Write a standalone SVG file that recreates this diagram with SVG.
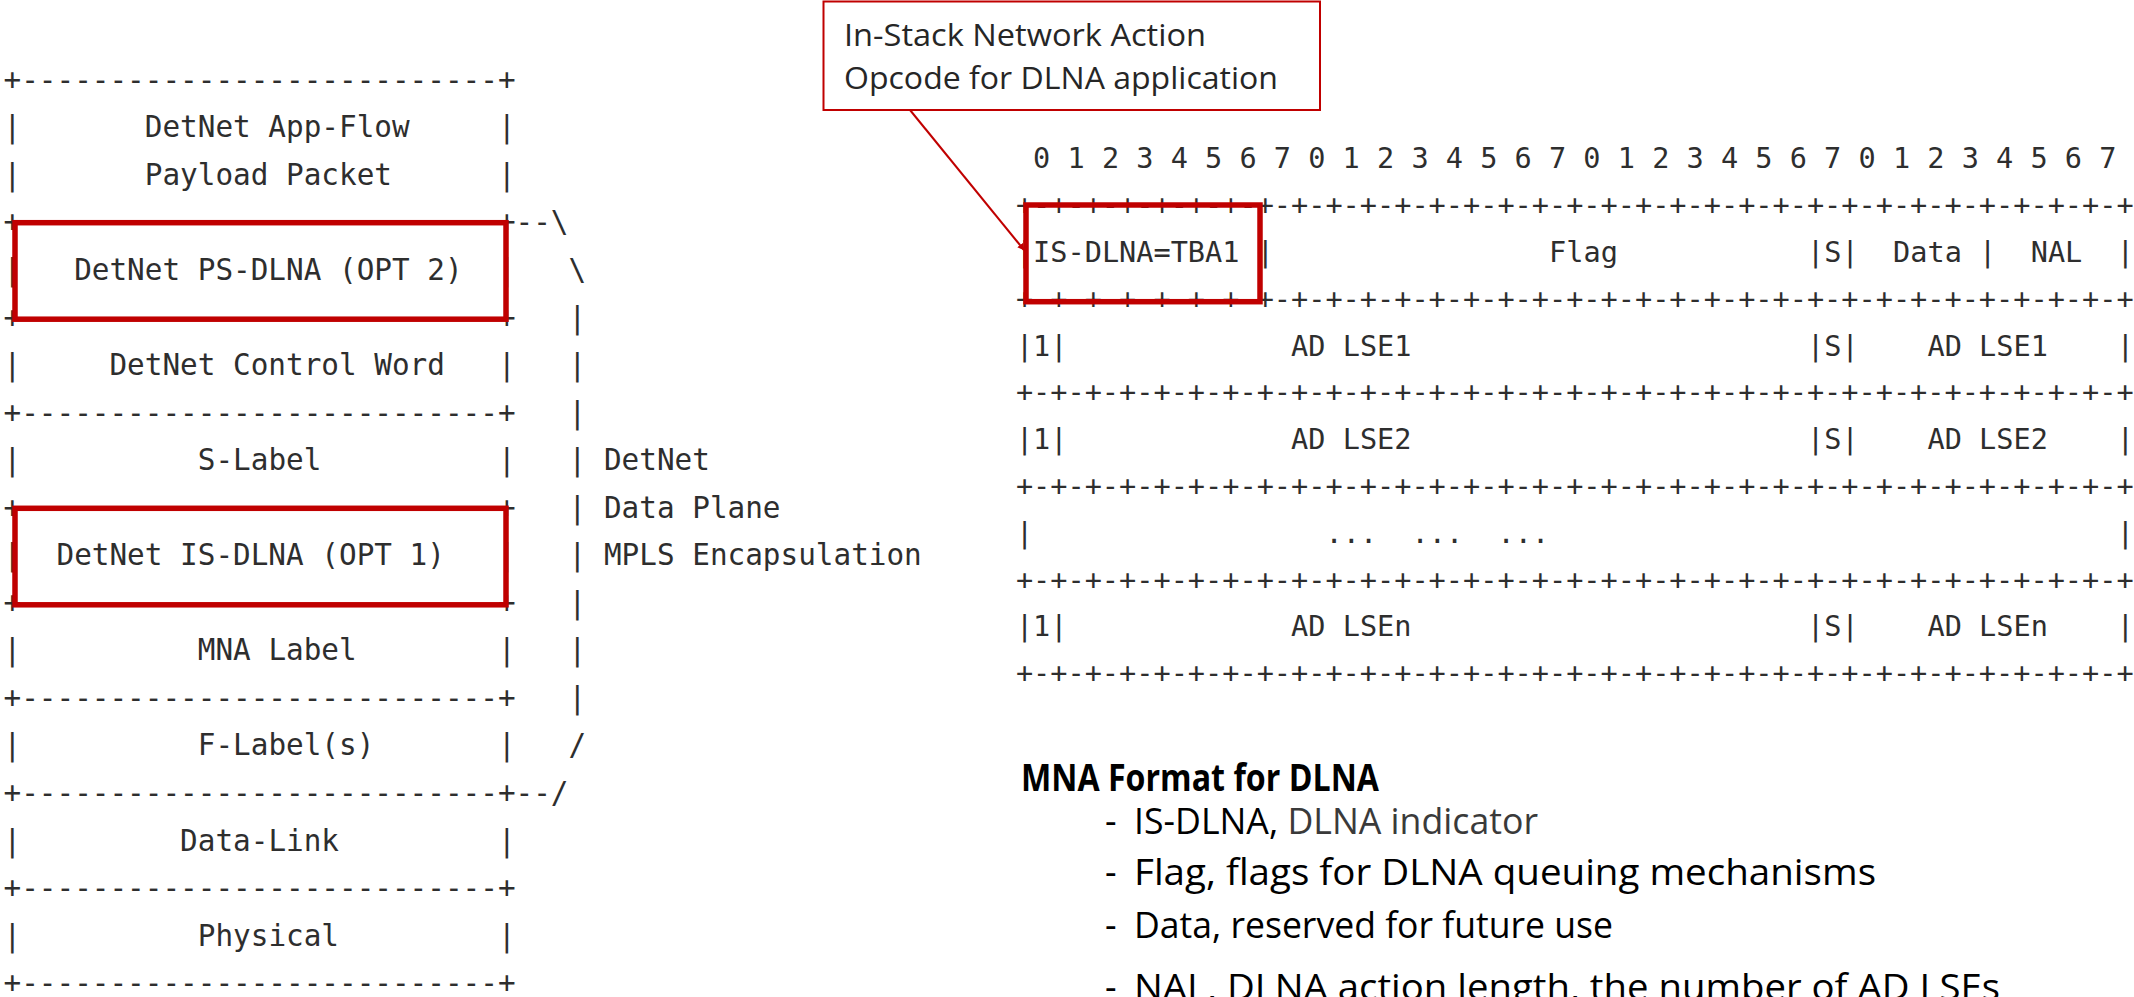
<svg xmlns="http://www.w3.org/2000/svg" width="2134" height="997" viewBox="0 0 2134 997">
  <style>
    .mono { font-family: "DejaVu Sans Mono", "Liberation Mono", monospace; fill: #2e2e2e; }
    .stack { font-size: 29.33px; }
    .fmt { font-size: 28.57px; }
    .hl { fill: none; stroke: #C00000; stroke-width: 5.5; }
    .note { font-family: "Open Sans", "Liberation Sans", sans-serif; fill: #262626; font-size: 31px; }
    .body { font-family: "Open Sans", "Liberation Sans", sans-serif; fill: #000; font-size: 36px; }
  </style>
  <defs>
    <marker id="arrow" viewBox="0 0 10 10" refX="9" refY="5" markerWidth="7" markerHeight="7" orient="auto" markerUnits="userSpaceOnUse">
      <path d="M0,0 L10,5 L0,10 z" fill="#C00000"/>
    </marker>
  </defs>
  <rect width="2134" height="997" fill="#fff"/>

  <!-- DetNet MPLS data plane stack: column grid x = 3.5 + 17.66 * col -->
  <g id="protocol-stack" class="mono stack">
    <text x="3.5" y="89.75">+---------------------------+</text>
    <text y="137.3"><tspan x="3.5">|</tspan><tspan x="144.78">DetNet App-Flow</tspan><tspan x="497.98">|</tspan></text>
    <text y="184.85"><tspan x="3.5">|</tspan><tspan x="144.78">Payload Packet</tspan><tspan x="497.98">|</tspan></text>
    <text x="3.5" y="232.4">+---------------------------+--\</text>
    <text y="279.95"><tspan x="3.5">|</tspan><tspan x="74.14">DetNet PS-DLNA (OPT 2)</tspan><tspan x="497.98">|</tspan><tspan x="568.62">\</tspan></text>
    <text y="327.5"><tspan x="3.5">+---------------------------+</tspan><tspan x="568.62">|</tspan></text>
    <text y="375.05"><tspan x="3.5">|</tspan><tspan x="109.46">DetNet Control Word</tspan><tspan x="497.98">|</tspan><tspan x="568.62">|</tspan></text>
    <text y="422.6"><tspan x="3.5">+---------------------------+</tspan><tspan x="568.62">|</tspan></text>
    <text y="470.15"><tspan x="3.5">|</tspan><tspan x="197.76">S-Label</tspan><tspan x="497.98">|</tspan><tspan x="568.62">|</tspan><tspan x="603.94">DetNet</tspan></text>
    <text y="517.7"><tspan x="3.5">+---------------------------+</tspan><tspan x="568.62">|</tspan><tspan x="603.94">Data Plane</tspan></text>
    <text y="565.25"><tspan x="3.5">|</tspan><tspan x="56.48">DetNet IS-DLNA (OPT 1)</tspan><tspan x="497.98">|</tspan><tspan x="568.62">|</tspan><tspan x="603.94">MPLS Encapsulation</tspan></text>
    <text y="612.8"><tspan x="3.5">+---------------------------+</tspan><tspan x="568.62">|</tspan></text>
    <text y="660.35"><tspan x="3.5">|</tspan><tspan x="197.76">MNA Label</tspan><tspan x="497.98">|</tspan><tspan x="568.62">|</tspan></text>
    <text y="707.9"><tspan x="3.5">+---------------------------+</tspan><tspan x="568.62">|</tspan></text>
    <text y="755.45"><tspan x="3.5">|</tspan><tspan x="197.76">F-Label(s)</tspan><tspan x="497.98">|</tspan><tspan x="568.62">/</tspan></text>
    <text x="3.5" y="803">+---------------------------+--/</text>
    <text y="850.55"><tspan x="3.5">|</tspan><tspan x="180.1">Data-Link</tspan><tspan x="497.98">|</tspan></text>
    <text x="3.5" y="898.1">+---------------------------+</text>
    <text y="945.65"><tspan x="3.5">|</tspan><tspan x="197.76">Physical</tspan><tspan x="497.98">|</tspan></text>
    <text x="3.5" y="993.2">+---------------------------+</text>
  </g>

  <!-- DLNA options in the stack -->
  <g id="stack-highlights">
    <rect id="opt2" class="hl" x="15" y="222.7" width="491" height="96.5"/>
    <rect id="opt1" class="hl" x="15" y="508.3" width="491" height="96.5"/>
  </g>

  <!-- MNA format for DLNA: column grid x = 1015.9 + 17.2 * col -->
  <g id="mna-format" class="mono fmt">
    <text x="1033.1" y="168.3">0 1 2 3 4 5 6 7 0 1 2 3 4 5 6 7 0 1 2 3 4 5 6 7 0 1 2 3 4 5 6 7</text>
    <text x="1015.9" y="215.1">+-+-+-+-+-+-+-+-+-+-+-+-+-+-+-+-+-+-+-+-+-+-+-+-+-+-+-+-+-+-+-+-+</text>
    <text y="261.9"><tspan x="1015.9">|</tspan><tspan x="1033.1">IS-DLNA=TBA1</tspan><tspan x="1256.7">|</tspan><tspan x="1549.1">Flag</tspan><tspan x="1807.1">|S|</tspan><tspan x="1893.1">Data</tspan><tspan x="1979.1">|</tspan><tspan x="2030.7">NAL</tspan><tspan x="2116.7">|</tspan></text>
    <text x="1015.9" y="308.7">+-+-+-+-+-+-+-+-+-+-+-+-+-+-+-+-+-+-+-+-+-+-+-+-+-+-+-+-+-+-+-+-+</text>
    <text y="355.5"><tspan x="1015.9">|1|</tspan><tspan x="1291.1">AD LSE1</tspan><tspan x="1807.1">|S|</tspan><tspan x="1927.5">AD LSE1</tspan><tspan x="2116.7">|</tspan></text>
    <text x="1015.9" y="402.3">+-+-+-+-+-+-+-+-+-+-+-+-+-+-+-+-+-+-+-+-+-+-+-+-+-+-+-+-+-+-+-+-+</text>
    <text y="449.1"><tspan x="1015.9">|1|</tspan><tspan x="1291.1">AD LSE2</tspan><tspan x="1807.1">|S|</tspan><tspan x="1927.5">AD LSE2</tspan><tspan x="2116.7">|</tspan></text>
    <text x="1015.9" y="495.9">+-+-+-+-+-+-+-+-+-+-+-+-+-+-+-+-+-+-+-+-+-+-+-+-+-+-+-+-+-+-+-+-+</text>
    <text y="542.7"><tspan x="1015.9">|</tspan><tspan x="1325.5">...</tspan><tspan x="1411.5">...</tspan><tspan x="1497.5">...</tspan><tspan x="2116.7">|</tspan></text>
    <text x="1015.9" y="589.5">+-+-+-+-+-+-+-+-+-+-+-+-+-+-+-+-+-+-+-+-+-+-+-+-+-+-+-+-+-+-+-+-+</text>
    <text y="636.3"><tspan x="1015.9">|1|</tspan><tspan x="1291.1">AD LSEn</tspan><tspan x="1807.1">|S|</tspan><tspan x="1927.5">AD LSEn</tspan><tspan x="2116.7">|</tspan></text>
    <text x="1015.9" y="683.1">+-+-+-+-+-+-+-+-+-+-+-+-+-+-+-+-+-+-+-+-+-+-+-+-+-+-+-+-+-+-+-+-+</text>
  </g>
  <rect id="is-dlna-field" class="hl" x="1026" y="205" width="234" height="96.7"/>

  <!-- callout for the opcode -->
  <g id="callout">
    <rect x="823.5" y="1.5" width="496.5" height="108.5" fill="#fff" stroke="#C00000" stroke-width="2"/>
    <text class="note" x="844" y="45.7" textLength="362" lengthAdjust="spacingAndGlyphs">In-Stack Network Action</text>
    <text class="note" x="844" y="89.3" textLength="434" lengthAdjust="spacingAndGlyphs">Opcode for DLNA application</text>
  </g>

  <g id="connectors">
    <line x1="910" y1="110" x2="1024" y2="250" stroke="#C00000" stroke-width="2" marker-end="url(#arrow)"/>
  </g>

  <!-- field descriptions -->
  <g id="legend" class="body">
    <text x="1021" y="791" font-weight="bold" font-size="38" textLength="358" lengthAdjust="spacingAndGlyphs">MNA Format for DLNA</text>
    <text x="1105" y="834">-</text>
    <text x="1134" y="834" textLength="404" lengthAdjust="spacingAndGlyphs">IS-DLNA, <tspan fill="#3a3a3a">DLNA indicator</tspan></text>
    <text x="1105" y="885">-</text>
    <text x="1134" y="885" textLength="742" lengthAdjust="spacingAndGlyphs">Flag, flags for DLNA queuing mechanisms</text>
    <text x="1105" y="938">-</text>
    <text x="1134" y="938" textLength="479" lengthAdjust="spacingAndGlyphs">Data, reserved for future use</text>
    <text x="1105" y="1000">-</text>
    <text x="1134" y="1000" textLength="866" lengthAdjust="spacingAndGlyphs">NAL, DLNA action length, the number of AD LSEs</text>
  </g>
</svg>
